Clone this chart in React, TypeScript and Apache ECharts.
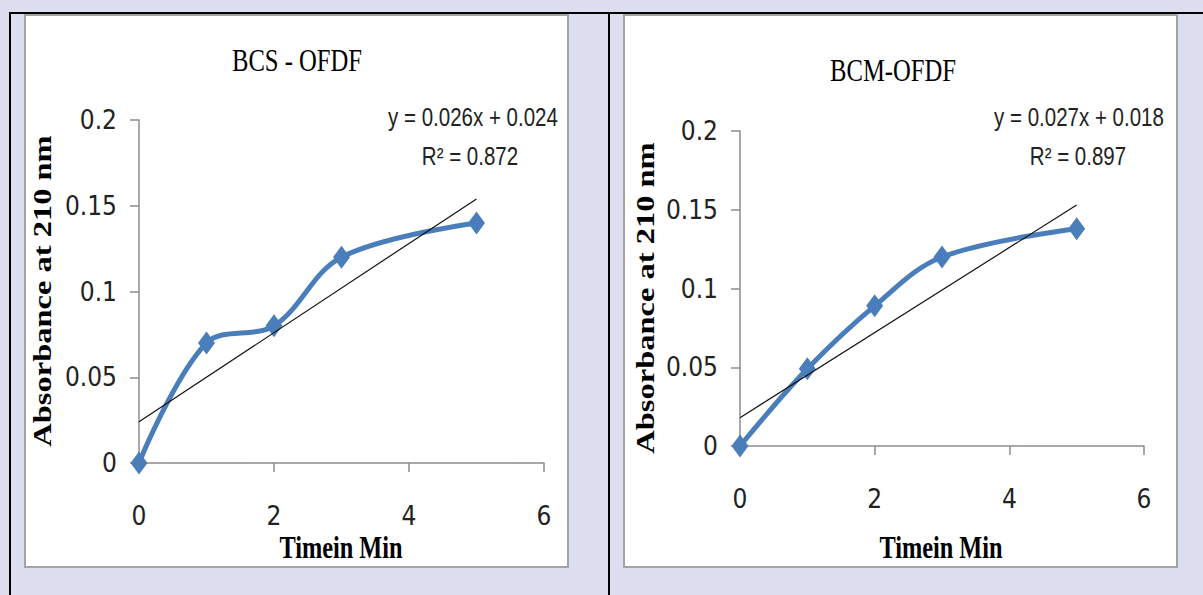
import React, { useEffect, useRef } from "react";
import * as echarts from "echarts";

// ---- data ----
const timeMin = [0, 1, 2, 3, 5];
const bcsAbs = [0, 0.07, 0.08, 0.12, 0.14];
const bcmAbs = [0, 0.049, 0.089, 0.12, 0.138];

const trendX = [0, 5];
const bcsSlope = 0.026;
const bcsIntercept = 0.024;
const bcsR2 = "0.872";
const bcmSlope = 0.027;
const bcmIntercept = 0.018;
const bcmR2 = "0.897";

const xTicks = [0, 2, 4, 6];
const yTicks = [0, 0.05, 0.1, 0.15, 0.2];

const titles = ["BCS - OFDF", "BCM-OFDF"];
const xName = "Timein Min";
const yName = "Absorbance at 210 nm";

const BLUE = "#4a7ebb";
const AXIS = "#8c8c8c";
const LAV = "#dcdeef";

const labelFont = "'Liberation Sans Narrow', 'Arial Narrow', 'DejaVu Sans Condensed', sans-serif";

function makeAxes(gridIndex: number) {
  const x = {
    type: "value",
    gridIndex,
    min: xTicks[0],
    max: xTicks[xTicks.length - 1],
    interval: xTicks[1] - xTicks[0],
    axisLine: { show: true, lineStyle: { color: AXIS, width: 1.5 } },
    axisTick: { show: true, length: 9, lineStyle: { color: AXIS, width: 1.5 } },
    splitLine: { show: false },
    axisLabel: { margin: 40, color: "#222", fontSize: 26, fontFamily: labelFont },
  };
  const y = {
    type: "value",
    gridIndex,
    min: yTicks[0],
    max: yTicks[yTicks.length - 1],
    interval: yTicks[1] - yTicks[0],
    axisLine: { show: true, lineStyle: { color: AXIS, width: 1.5 } },
    axisTick: { show: true, length: 9, lineStyle: { color: AXIS, width: 1.5 } },
    splitLine: { show: false },
    axisLabel: { margin: 22, color: "#222", fontSize: 26, fontFamily: labelFont },
  };
  return { x, y };
}

function pts(xs: number[], ys: number[]) {
  return xs.map((v, i) => [v, ys[i]]);
}

function trend(slope: number, intercept: number) {
  return trendX.map((v) => [v, slope * v + intercept]);
}

function txt(
  text: string,
  x: number,
  y: number,
  font: string,
  scaleX: number,
  fill = "#000",
  rotation = 0
) {
  return {
    type: "text",
    x,
    y,
    rotation,
    scaleX,
    z: 10,
    style: { text, font, fill, align: "center", verticalAlign: "middle" },
  };
}

export default function App() {
  const ref = useRef<HTMLDivElement>(null);
  useEffect(() => {
    if (!ref.current) return;
    const chart = echarts.init(ref.current, undefined, { renderer: "svg" });
    const a0 = makeAxes(0);
    const a1 = makeAxes(1);
    const serifTitle = "32px 'Liberation Serif', 'Times New Roman', serif";
    const serifBold = "bold 32px 'Liberation Serif', 'Times New Roman', serif";
    const yFont = "bold 26px 'Liberation Serif', 'Times New Roman', serif";
    const eqFont = "25px 'Liberation Sans', Arial, sans-serif";
    const option: any = {
      animation: false,
      backgroundColor: LAV,
      grid: [
        { left: 139, top: 120, width: 405, height: 343 },
        { left: 740, top: 131, width: 404, height: 315 },
      ],
      xAxis: [a0.x, a1.x],
      yAxis: [a0.y, a1.y],
      graphic: [
        // table borders
        { type: "rect", z: -5, shape: { x: 9, y: 12, width: 1194, height: 2 }, style: { fill: "#000" } },
        { type: "rect", z: -5, shape: { x: 9, y: 12, width: 2, height: 583 }, style: { fill: "#000" } },
        { type: "rect", z: -5, shape: { x: 608, y: 12, width: 2, height: 583 }, style: { fill: "#000" } },
        // chart boxes
        {
          type: "rect",
          z: -4,
          shape: { x: 25, y: 15, width: 543, height: 552 },
          style: { fill: "#fff", stroke: "#a3a3a3", lineWidth: 2 },
        },
        {
          type: "rect",
          z: -4,
          shape: { x: 624, y: 15, width: 553, height: 552 },
          style: { fill: "#fff", stroke: "#a3a3a3", lineWidth: 2 },
        },
        // titles
        txt(titles[0], 297, 60, serifTitle, 0.77),
        txt(titles[1], 893, 70, serifTitle, 0.77),
        // x names
        txt(xName, 341, 547, serifBold, 0.76),
        txt(xName, 941, 547, serifBold, 0.76),
        // y names
        txt(yName, 42, 291, yFont, 1.25, "#000", Math.PI / 2),
        txt(yName, 645, 298, yFont, 1.25, "#000", Math.PI / 2),
        // equations
        txt(`y = ${bcsSlope}x + ${bcsIntercept}`, 473, 117, eqFont, 0.82, "#222"),
        txt(`R² = ${bcsR2}`, 470, 156, eqFont, 0.82, "#222"),
        txt(`y = ${bcmSlope}x + ${bcmIntercept}`, 1079, 117, eqFont, 0.82, "#222"),
        txt(`R² = ${bcmR2}`, 1078, 156, eqFont, 0.82, "#222"),
      ],
      series: [
        {
          type: "line",
          xAxisIndex: 0,
          yAxisIndex: 0,
          data: pts(timeMin, bcsAbs),
          smooth: 0.35,
          symbol: "diamond",
          symbolSize: [17, 23],
          lineStyle: { color: BLUE, width: 5 },
          itemStyle: { color: BLUE },
          z: 3,
        },
        {
          type: "line",
          xAxisIndex: 0,
          yAxisIndex: 0,
          data: trend(bcsSlope, bcsIntercept),
          symbol: "none",
          lineStyle: { color: "#111", width: 1.2 },
          z: 4,
        },
        {
          type: "line",
          xAxisIndex: 1,
          yAxisIndex: 1,
          data: pts(timeMin, bcmAbs),
          smooth: 0.35,
          symbol: "diamond",
          symbolSize: [17, 23],
          lineStyle: { color: BLUE, width: 5 },
          itemStyle: { color: BLUE },
          z: 3,
        },
        {
          type: "line",
          xAxisIndex: 1,
          yAxisIndex: 1,
          data: trend(bcmSlope, bcmIntercept),
          symbol: "none",
          lineStyle: { color: "#111", width: 1.2 },
          z: 4,
        },
      ],
    };
    chart.setOption(option);
    return () => chart.dispose();
  }, []);
  return (
    <div
      ref={ref}
      style={{ position: "absolute", left: 0, top: 0, width: 1203, height: 595 }}
    />
  );
}
